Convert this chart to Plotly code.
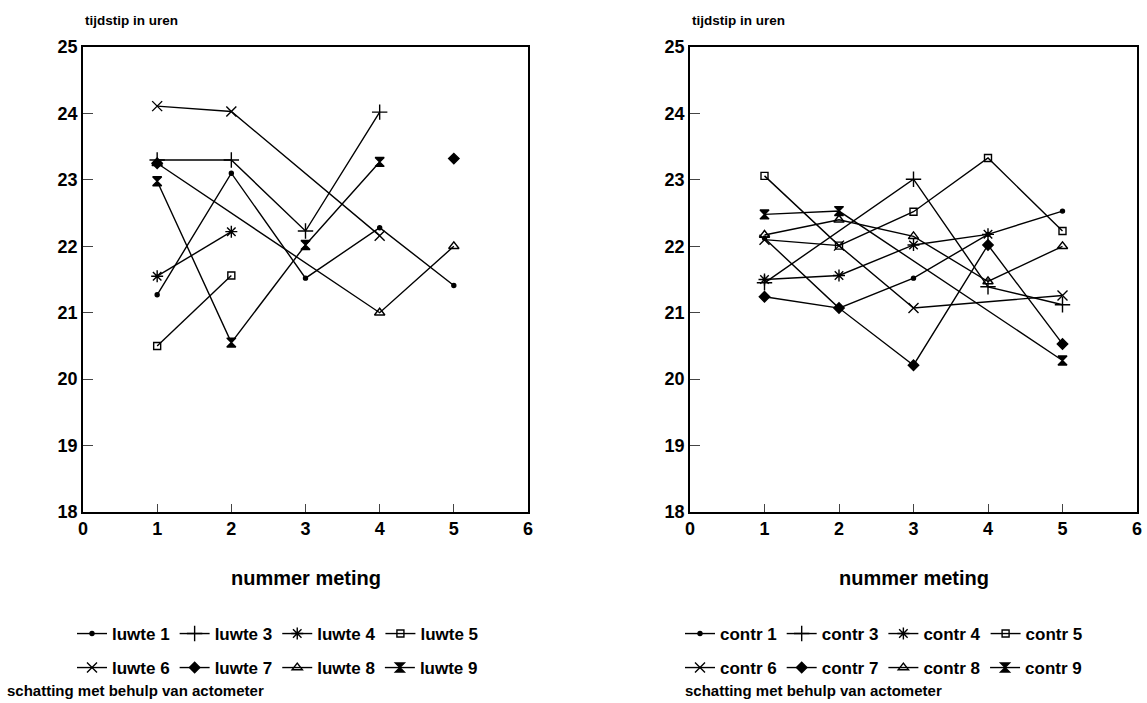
import plotly.graph_objects as go

# ---------------- data ----------------
x_meting = [1, 2, 3, 4, 5]
x_ticks = [0, 1, 2, 3, 4, 5, 6]
y_ticks = [18, 19, 20, 21, 22, 23, 24, 25]

luwte_names = ["luwte 1", "luwte 3", "luwte 4", "luwte 5",
               "luwte 6", "luwte 7", "luwte 8", "luwte 9"]
luwte_1 = [21.27, 23.10, 21.52, 22.28, 21.41]
luwte_3 = [23.30, 23.30, 22.23, 24.02, None]
luwte_4 = [21.55, 22.22, None, None, None]
luwte_5 = [20.50, 21.56, None, None, None]
luwte_6 = [24.11, 24.03, None, 22.16, None]
luwte_7 = [23.25, None, None, None, 23.32]
luwte_8 = [23.25, None, None, 21.00, 22.00]
luwte_9 = [22.98, 20.55, 22.02, 23.27, None]

contr_names = ["contr 1", "contr 3", "contr 4", "contr 5",
               "contr 6", "contr 7", "contr 8", "contr 9"]
contr_1 = [22.12, 21.07, 21.52, 22.18, 22.53]
contr_3 = [21.45, None, 23.01, 21.39, 21.12]
contr_4 = [21.50, 21.56, 22.02, 22.18, None]
contr_5 = [23.06, 22.01, 22.52, 23.33, 22.23]
contr_6 = [22.10, 22.01, 21.07, None, 21.26]
contr_7 = [21.24, 21.07, 20.21, 22.02, 20.53]
contr_8 = [22.17, 22.40, 22.15, 21.47, 22.00]
contr_9 = [22.48, 22.53, None, None, 20.28]

y_title = "tijdstip in uren"
x_title = "nummer meting"
footnote = "schatting met behulp van actometer"

# ---------------- styles ----------------
symbols = ["circle", "cross-thin", "asterisk", "square-open",
           "x-thin", "diamond", "triangle-up-open", "hourglass"]
sizes = [4, 11, 10, 7, 10, 8, 9, 9]
connect = [True, True, True, True, True, False, True, True]

FONT = "Liberation Sans"
W, H = 1147, 703

fig = go.Figure()

groups = [
    (luwte_names, [luwte_1, luwte_3, luwte_4, luwte_5, luwte_6, luwte_7, luwte_8, luwte_9],
     "x", "y", ["legend", "legend2"]),
    (contr_names, [contr_1, contr_3, contr_4, contr_5, contr_6, contr_7, contr_8, contr_9],
     "x2", "y2", ["legend3", "legend4"]),
]
for names, series, xa, ya, legs in groups:
    for i, (nm, vals) in enumerate(zip(names, series)):
        fig.add_trace(go.Scatter(
            x=x_meting, y=vals, name=nm, xaxis=xa, yaxis=ya,
            mode="lines+markers", connectgaps=connect[i],
            line=dict(color="black", width=1.4),
            marker=dict(symbol=symbols[i], size=sizes[i], color="black",
                        line=dict(color="black", width=1.4)),
            legend=legs[0] if i < 4 else legs[1],
        ))

left_dom = [83 / W, 528 / W]
right_dom = [690 / W, 1137 / W]
y_dom = [1 - 512 / H, 1 - 47 / H]

ax_common = dict(
    range=[0, 6], tickmode="array", tickvals=x_ticks, ticks="inside", ticklen=8,
    tickwidth=1.3, showline=True, linecolor="black", linewidth=1.5, mirror=True,
    showgrid=False, zeroline=False,
    tickfont=dict(family=FONT, size=18, color="black", weight="bold"),
)
ay_common = dict(
    range=[18, 25], tickmode="array", tickvals=y_ticks, ticks="inside", ticklen=10,
    tickwidth=1.3, showline=True, linecolor="black", linewidth=1.5, mirror=True,
    showgrid=False, zeroline=False,
    tickfont=dict(family=FONT, size=18, color="black", weight="bold"),
)

leg_common = dict(
    orientation="h", xanchor="left", yanchor="middle", bgcolor="rgba(0,0,0,0)",
    font=dict(family=FONT, size=17, color="black", weight="bold"),
    itemwidth=30, itemclick=False, tracegroupgap=0,
)

fig.update_layout(
    width=W, height=H,
    margin=dict(l=0, r=0, t=0, b=0, autoexpand=False),
    paper_bgcolor="white", plot_bgcolor="white",
    showlegend=True,
    xaxis=dict(domain=left_dom, anchor="y", **ax_common),
    yaxis=dict(domain=y_dom, anchor="x", **ay_common),
    xaxis2=dict(domain=right_dom, anchor="y2", **ax_common),
    yaxis2=dict(domain=y_dom, anchor="x2", **ay_common),
    legend=dict(x=72 / W, y=1 - 634 / H, **leg_common),
    legend2=dict(x=72 / W, y=1 - 668 / H, **leg_common),
    legend3=dict(x=680 / W, y=1 - 634 / H, **leg_common),
    legend4=dict(x=680 / W, y=1 - 668 / H, **leg_common),
)

for xr in ["x domain", "x2 domain"]:
    fig.add_annotation(text=y_title, xref=xr, yref="paper", x=0, y=1 - 20 / H,
                       xanchor="left", yanchor="middle", showarrow=False,
                       font=dict(family=FONT, size=13.5, color="black", weight="bold"))
    fig.add_annotation(text=x_title, xref=xr, yref="paper", x=0.5, y=1 - 578 / H,
                       xanchor="center", yanchor="middle", showarrow=False,
                       font=dict(family=FONT, size=20, color="black", weight="bold"))

for fx in [5 / W, 683 / W]:
    fig.add_annotation(text=footnote, xref="paper", yref="paper", x=fx, y=1 - 690 / H,
                       xanchor="left", yanchor="middle", showarrow=False,
                       font=dict(family=FONT, size=15, color="black", weight="bold"))

fig.write_html("out.html")
